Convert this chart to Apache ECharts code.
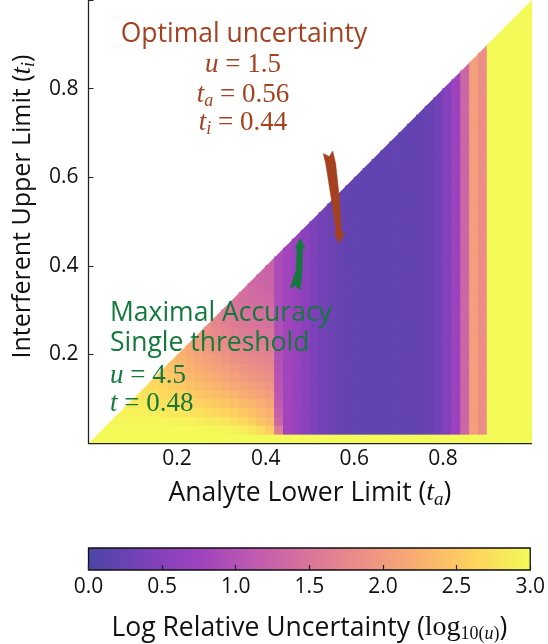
<!DOCTYPE html>
<html><head><meta charset="utf-8">
<script src="https://cdn.jsdelivr.net/npm/echarts@6/dist/echarts.min.js"></script>
<style>html,body{margin:0;padding:0;background:#fff}#c{width:548px;height:644px}</style>
</head><body><div id="c"></div>
<script>
// ---------------- data (log10 relative uncertainty) ----------------
const gridStep = 0.02;              // cell size in t_a and t_i
const bottomRowValue = 3.0;          // row t_i in [0, 0.02)
// columns t_a = 0.00..0.44 (step 0.02); each lists rows t_i = 0.02.. up to the diagonal
const lowerLeftColumns = [
  [],
  [3.0],
  [3.0, 2.95],
  [3.0, 2.95, 2.92],
  [3.0, 2.95, 2.9, 2.88],
  [3.0, 2.95, 2.9, 2.85, 2.82],
  [3.0, 2.95, 2.88, 2.82, 2.77, 2.72],
  [3.0, 2.95, 2.87, 2.8, 2.72, 2.66, 2.62],
  [3.0, 2.94, 2.85, 2.76, 2.68, 2.61, 2.55, 2.5],
  [3.0, 2.93, 2.83, 2.73, 2.64, 2.56, 2.49, 2.43, 2.38],
  [3.0, 2.92, 2.8, 2.69, 2.59, 2.5, 2.42, 2.35, 2.29, 2.25],
  [3.0, 2.9, 2.77, 2.65, 2.54, 2.44, 2.36, 2.28, 2.21, 2.16, 2.12],
  [2.98, 2.88, 2.74, 2.61, 2.5, 2.39, 2.3, 2.21, 2.13, 2.07, 2.02, 1.98],
  [2.97, 2.85, 2.7, 2.57, 2.45, 2.34, 2.24, 2.15, 2.06, 1.99, 1.93, 1.88, 1.84],
  [2.96, 2.82, 2.66, 2.53, 2.4, 2.29, 2.18, 2.09, 2.0, 1.92, 1.85, 1.79, 1.74, 1.7],
  [2.95, 2.78, 2.62, 2.48, 2.35, 2.23, 2.12, 2.03, 1.94, 1.86, 1.78, 1.71, 1.65, 1.6, 1.57],
  [2.92, 2.72, 2.56, 2.42, 2.29, 2.17, 2.07, 1.97, 1.88, 1.8, 1.72, 1.65, 1.59, 1.54, 1.5, 1.47],
  [2.88, 2.65, 2.5, 2.36, 2.23, 2.12, 2.01, 1.92, 1.83, 1.75, 1.67, 1.6, 1.54, 1.49, 1.45, 1.42, 1.4],
  [2.8, 2.56, 2.42, 2.29, 2.17, 2.06, 1.96, 1.87, 1.78, 1.7, 1.62, 1.56, 1.5, 1.45, 1.41, 1.38, 1.36, 1.34],
  [2.7, 2.45, 2.33, 2.21, 2.1, 2.0, 1.91, 1.82, 1.74, 1.66, 1.59, 1.52, 1.47, 1.42, 1.38, 1.35, 1.32, 1.3, 1.28],
  [2.55, 2.35, 2.24, 2.13, 2.03, 1.94, 1.86, 1.78, 1.7, 1.63, 1.56, 1.5, 1.44, 1.39, 1.35, 1.32, 1.29, 1.27, 1.25, 1.23],
  [1.6, 1.3, 1.2, 1.12, 1.08, 1.05, 1.02, 1.0, 0.98, 0.96, 0.95, 0.94, 0.93, 0.92, 0.91, 0.9, 0.9, 0.9, 0.9, 0.9, 0.9]
];
// columns t_a = 0.44..1.00 (step 0.02): value for every row above the bottom row
const upperColumnValues = [
  0.8, 0.7, 0.55, 0.42, 0.32, 0.26, 0.22,
  0.2, 0.2, 0.2, 0.2, 0.2, 0.2, 0.2, 0.2, 0.21,
  0.24, 0.32, 0.5, 0.75, 1.3, 2.05, 1.85,
  3.0, 3.0, 3.0, 3.0, 3.0
];
const colorbarRange = [0, 3];
const optimumPoint = [0.56, 0.44];          // u = 1.5
const singleThresholdPoint = [0.48, 0.48];  // u = 4.5, t = 0.48

// ---------------- build cells ----------------
const nCols = Math.round(1 / gridStep);
const cells = [];
for (let j = 0; j < nCols; j++) {
  for (let i = 0; i <= j; i++) {
    let v;
    if (i === 0) v = bottomRowValue;
    else if (j < lowerLeftColumns.length) v = lowerLeftColumns[j][i - 1];
    else v = upperColumnValues[j - lowerLeftColumns.length];
    cells.push([j * gridStep, i * gridStep, v, i === j ? 1 : 0]);
  }
}

const plasma = ['#4a46a5','#7941b9','#9e42be','#bf5ab0','#d9759a','#ec9086','#fab070','#fed45d','#f4fb59'];
const FONT = 'Open Sans';
const SERIF = 'Liberation Serif';
const ink = '#111';
const brown = '#a5411f';
const green = '#137a3c';

const chart = echarts.init(document.getElementById('c'), null, {renderer: 'canvas'});

function mathRich(color, size) {
  return {
    m: {fontFamily: SERIF, fontStyle: 'italic', fontSize: size, color: color, fill: color},
    o: {fontFamily: SERIF, fontSize: size, color: color, fill: color},
    s: {fontFamily: SERIF, fontStyle: 'italic', fontSize: Math.round(size * 0.68), color: color, fill: color, padding: [Math.round(size * 0.45), 0, 0, 0]}
  };
}

const brownArrow = [[-16,-90],[-10,-87],[-6.6,-92.6],[-3.6,-80],[0,-46.6],[2,-11],[5,-11],[0,0],[-5,-11],[-3,-11],[-8.3,-46.6],[-13.6,-80]];
const greenArrow = [[0,0],[5,10],[2,10],[2,32],[0,52],[-5,47],[-10,50],[-4,32],[-3,10],[-5,10]];

const option = {
  animation: false,
  backgroundColor: '#fff',
  grid: [
    {left: 88.5, width: 443, top: 0, height: 443},
    {left: 88.5, width: 443, top: 548, height: 22}
  ],
  xAxis: [
    {
      gridIndex: 0, type: 'value', min: 0, max: 1, interval: 0.2,
      axisLine: {show: true, onZero: false, lineStyle: {color: '#222', width: 1.3}},
      axisTick: {show: true, inside: true, length: 5, lineStyle: {color: '#222', width: 1}},
      axisLabel: {formatter: v => (v > 0.001 && v < 0.999) ? v.toFixed(1) : '', fontSize: 21, color: ink, fontFamily: FONT, margin: 6},
      splitLine: {show: false},
      name: '{n|Analyte Lower Limit (}{m|t}{s|a}{n|)}',
      nameLocation: 'middle', nameGap: 34,
      nameTextStyle: {rich: Object.assign({n: {fontFamily: FONT, fontSize: 26.5, color: ink}}, mathRich(ink, 28))}
    },
    {
      gridIndex: 1, type: 'value', min: colorbarRange[0], max: colorbarRange[1], interval: 0.5, z: 10,
      axisLine: {show: false},
      axisTick: {show: true, inside: true, length: 5, lineStyle: {color: '#222', width: 1.2}},
      axisLabel: {formatter: v => v.toFixed(1), fontSize: 21, color: ink, fontFamily: FONT, margin: 7},
      splitLine: {show: false},
      name: '{n|Log Relative Uncertainty (}{o|log}{ss|10(}{sm|u}{ss|)}{n|)}',
      nameLocation: 'middle', nameGap: 43,
      nameTextStyle: {rich: {
        n: {fontFamily: FONT, fontSize: 26.5, color: ink},
        o: {fontFamily: SERIF, fontSize: 28, color: ink},
        ss: {fontFamily: SERIF, fontSize: 18, color: ink, padding: [12, 0, 0, 0]},
        sm: {fontFamily: SERIF, fontStyle: 'italic', fontSize: 18, color: ink, padding: [12, 0, 0, 0]}
      }}
    }
  ],
  yAxis: [
    {
      gridIndex: 0, type: 'value', min: 0, max: 1, interval: 0.2,
      axisLine: {show: true, onZero: false, lineStyle: {color: '#222', width: 1.3}},
      axisTick: {show: true, inside: true, length: 5, lineStyle: {color: '#222', width: 1}},
      axisLabel: {formatter: v => (v > 0.001 && v < 0.999) ? v.toFixed(1) : '', fontSize: 21, color: ink, fontFamily: FONT, margin: 10},
      splitLine: {show: false},
      name: '{n|Interferent Upper Limit (}{m|t}{s|i}{n|)}',
      nameLocation: 'middle', nameGap: 47, nameRotate: 90,
      nameTextStyle: {padding: [0, 0, 0, 30], rich: Object.assign({n: {fontFamily: FONT, fontSize: 25, color: ink}}, mathRich(ink, 27))}
    },
    {gridIndex: 1, type: 'value', min: 0, max: 1, show: false}
  ],
  visualMap: [{
    type: 'continuous', show: false, min: colorbarRange[0], max: colorbarRange[1],
    dimension: 2, seriesIndex: 0, inRange: {color: plasma}
  }],
  series: [
    {
      type: 'custom', name: 'uncertainty', xAxisIndex: 0, yAxisIndex: 0, clip: true,
      data: cells, encode: {x: 0, y: 1},
      renderItem: function (params, api) {
        const x0 = api.value(0), y0 = api.value(1), tri = api.value(3);
        const p00 = api.coord([x0, y0]);
        const p10 = api.coord([x0 + gridStep, y0]);
        const p11 = api.coord([x0 + gridStep, y0 + gridStep]);
        const p01 = api.coord([x0, y0 + gridStep]);
        const color = api.visual('color');
        if (tri) {
          return {type: 'polygon', shape: {points: [[p00[0], p00[1] + 0.5], [p10[0] + 0.5, p10[1] + 0.5], [p11[0] + 0.5, p11[1]]]}, style: {fill: color}};
        }
        return {type: 'rect', shape: {x: p01[0] - 0.4, y: p01[1] - 0.4, width: p11[0] - p01[0] + 0.9, height: p00[1] - p01[1] + 0.9}, style: {fill: color}};
      }
    },
    {
      type: 'custom', name: 'colorbar', xAxisIndex: 1, yAxisIndex: 1, clip: false,
      data: [[colorbarRange[0], 0, colorbarRange[1], 1]],
      renderItem: function (params, api) {
        const a = api.coord([api.value(0), api.value(3)]);
        const b = api.coord([api.value(2), api.value(1)]);
        const stops = plasma.map((c, k) => ({offset: k / (plasma.length - 1), color: c}));
        return {type: 'rect', shape: {x: a[0], y: a[1], width: b[0] - a[0], height: b[1] - a[1]},
          style: {fill: new echarts.graphic.LinearGradient(0, 0, 1, 0, stops), stroke: '#111', lineWidth: 1.3}};
      }
    },
    {
      type: 'custom', name: 'arrows', xAxisIndex: 0, yAxisIndex: 0, clip: false, z: 20,
      data: [[optimumPoint[0], optimumPoint[1], 0], [singleThresholdPoint[0], singleThresholdPoint[1], 1]],
      renderItem: function (params, api) {
        const p = api.coord([api.value(0), api.value(1)]);
        const kind = api.value(2);
        const shape = kind === 0 ? brownArrow : greenArrow;
        const tipOff = kind === 0 ? [2.7, -4.5] : [-1, 8];
        const pts = shape.map(q => [p[0] + tipOff[0] + q[0], p[1] + tipOff[1] + q[1]]);
        const col = kind === 0 ? brown : green;
        return {type: 'polygon', shape: {points: pts}, style: {fill: col, stroke: col, lineWidth: 0.5}};
      }
    }
  ],
  graphic: [
    {type: 'text', x: 244, y: 34, z: 30, style: {text: 'Optimal uncertainty', fontFamily: FONT, fontSize: 26.5, fill: brown, align: 'center', verticalAlign: 'middle'}},
    {type: 'text', x: 243, y: 65, z: 30, style: {text: '{m|u}{o| = 1.5}', rich: mathRich(brown, 27), align: 'center', verticalAlign: 'middle'}},
    {type: 'text', x: 243, y: 95, z: 30, style: {text: '{m|t}{s|a}{o| = 0.56}', rich: mathRich(brown, 27), align: 'center', verticalAlign: 'middle'}},
    {type: 'text', x: 243, y: 123, z: 30, style: {text: '{m|t}{s|i}{o| = 0.44}', rich: mathRich(brown, 27), align: 'center', verticalAlign: 'middle'}},
    {type: 'text', x: 110, y: 313, z: 30, style: {text: 'Maximal Accuracy', fontFamily: FONT, fontSize: 26.5, fill: green, align: 'left', verticalAlign: 'middle'}},
    {type: 'text', x: 110, y: 343, z: 30, style: {text: 'Single threshold', fontFamily: FONT, fontSize: 26.5, fill: green, align: 'left', verticalAlign: 'middle'}},
    {type: 'text', x: 110, y: 376, z: 30, style: {text: '{m|u}{o| = 4.5}', rich: mathRich(green, 27), align: 'left', verticalAlign: 'middle'}},
    {type: 'text', x: 110, y: 404, z: 30, style: {text: '{m|t}{o| = 0.48}', rich: mathRich(green, 27), align: 'left', verticalAlign: 'middle'}}
  ]
};
chart.setOption(option);
</script>
</body></html>
